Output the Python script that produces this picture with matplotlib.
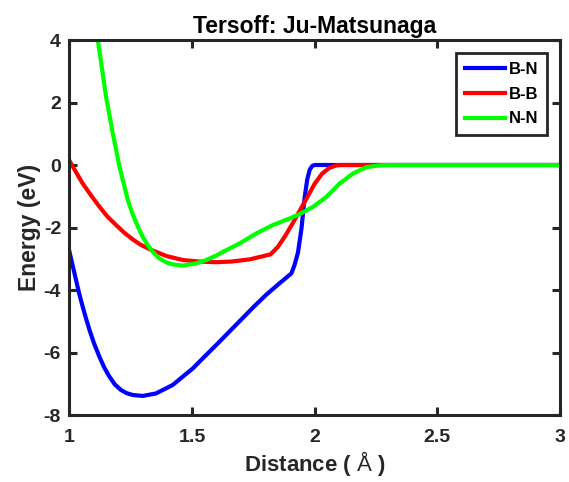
import matplotlib
matplotlib.use("Agg")
from matplotlib import pyplot as plt

# pair energies read along r (Angstrom)
bn_r = [1.00, 1.027, 1.04, 1.054, 1.068, 1.082, 1.10, 1.122, 1.142, 1.163, 1.185, 1.21,
        1.233, 1.258, 1.299, 1.353, 1.421, 1.503, 1.55, 1.60, 1.65, 1.70, 1.75, 1.80,
        1.85, 1.905, 1.918, 1.932, 1.946, 1.959, 1.97, 1.98, 1.99, 2.00, 3.00]
bn_e = [-2.77, -3.68, -4.12, -4.53, -4.92, -5.28, -5.70, -6.13, -6.48, -6.77, -7.02, -7.20,
        -7.30, -7.36, -7.39, -7.31, -7.04, -6.51, -6.14, -5.75, -5.35, -4.95, -4.55, -4.17,
        -3.83, -3.47, -3.20, -2.80, -2.05, -1.05, -0.45, -0.15, -0.03, 0.0, 0.0]

bb_r = [1.00, 1.027, 1.054, 1.088, 1.122, 1.155, 1.19, 1.224, 1.258, 1.29, 1.326, 1.394,
        1.462, 1.53, 1.598, 1.66, 1.735, 1.82, 1.85, 1.88, 1.91, 1.94, 1.97, 2.00, 2.03,
        2.06, 2.09, 2.11, 3.00]
bb_e = [0.14, -0.23, -0.59, -0.97, -1.33, -1.65, -1.92, -2.17, -2.38, -2.55, -2.69, -2.91,
        -3.04, -3.09, -3.11, -3.09, -3.02, -2.86, -2.62, -2.27, -1.87, -1.45, -1.03, -0.60,
        -0.28, -0.09, -0.01, 0.0, 0.0]

nn_r = [1.10, 1.116, 1.149, 1.177, 1.204, 1.238, 1.258, 1.279, 1.298, 1.319, 1.342, 1.367,
        1.393, 1.421, 1.462, 1.516, 1.558, 1.598, 1.626, 1.694, 1.762, 1.83, 1.898, 1.939,
        1.993, 2.048, 2.102, 2.157, 2.211, 2.265, 2.30, 3.00]
nn_e = [5.0, 4.0, 2.2, 1.01, -0.05, -1.12, -1.58, -1.97, -2.29, -2.56, -2.80, -2.99,
        -3.11, -3.18, -3.22, -3.15, -3.04, -2.90, -2.78, -2.51, -2.19, -1.92, -1.71, -1.57,
        -1.34, -1.02, -0.59, -0.27, -0.07, -0.01, 0.0, 0.0]

xticks = [1, 1.5, 2, 2.5, 3]
xticklabels = ["1", "1.5", "2", "2.5", "3"]
yticks = [-8, -6, -4, -2, 0, 2, 4]

plt.rcParams["font.family"] = ["Liberation Sans", "DejaVu Sans"]
plt.rcParams["font.weight"] = "bold"
plt.rcParams["axes.unicode_minus"] = False
plt.rcParams["mathtext.fontset"] = "custom"
plt.rcParams["mathtext.rm"] = "Liberation Sans:weight=normal"

fig = plt.figure(figsize=(5.69, 4.82), dpi=100)
ax = fig.add_axes([0.122, 0.139, 0.862, 0.778])

ax.plot(bn_r, bn_e, color=(0, 0, 1), lw=3, label="B-N")
ax.plot(bb_r, bb_e, color=(1, 0, 0), lw=3, label="B-B")
ax.plot(nn_r, nn_e, color=(0, 1, 0), lw=3, label="N-N")

ax.set_xlim(1, 3)
ax.set_ylim(-8, 4)
ax.set_xticks(xticks)
ax.set_xticklabels(xticklabels)
ax.set_yticks(yticks)
ax.tick_params(direction="in", length=6, width=2.2, top=True, right=True,
               labelsize=14, color="#262626", labelcolor="#262626")
ax.tick_params(axis="x", pad=10)
ax.tick_params(axis="y", pad=6)
for sp in ax.spines.values():
    sp.set_linewidth(2.2)
    sp.set_color("#262626")

ax.set_title("Tersoff: Ju-Matsunaga", fontsize=16.5, fontweight="bold", pad=5)
ax.set_xlabel(r"Distance ( $\mathrm{Å}$ )", fontsize=16, fontweight="bold", color="#262626",
              labelpad=2)
ax.set_ylabel("Energy (eV)", fontsize=16.5, fontweight="bold", color="#262626", labelpad=2)

leg = ax.legend(loc="upper right", fontsize=12, frameon=True, fancybox=False,
                handlelength=2.4, handletextpad=0.25, borderpad=0.5,
                borderaxespad=0.8, labelspacing=0.59)
leg.get_frame().set_edgecolor("#262626")
leg.get_frame().set_linewidth(2)
leg.get_frame().set_alpha(1)
for t in leg.get_texts():
    t.set_fontweight("bold")

plt.savefig("out.png", dpi=100)
